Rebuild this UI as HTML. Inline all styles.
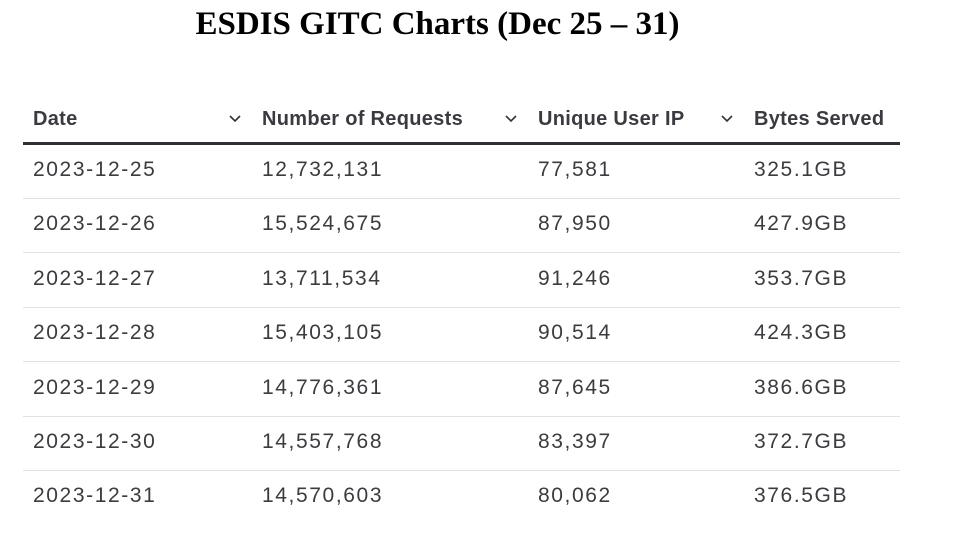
<!DOCTYPE html>
<html><head><meta charset="utf-8"><style>
body{margin:0;width:955px;height:554px;background:#fff;overflow:hidden;position:relative;font-family:"Liberation Sans",sans-serif}
.t{position:absolute;left:0;width:875px;text-align:center;top:6px;font:bold 33px "Liberation Serif",serif;color:#000}
.h{position:absolute;top:108px;font-weight:bold;font-size:20px;color:#3a3a40;letter-spacing:0.3px}
.c{position:absolute;top:111px;width:14px;height:14px}
.line{position:absolute;left:23px;width:877px}
.cell{position:absolute;font-size:21px;color:#3c3c40;letter-spacing:1.6px}
</style></head><body>
<div class="t">ESDIS GITC Charts (Dec 25 – 31)</div>
<div class="h" style="left:33px">Date</div>
<div class="h" style="left:262px">Number of Requests</div>
<div class="h" style="left:538px">Unique User IP</div>
<div class="h" style="left:754px">Bytes Served</div>
<svg class="c" style="left:228px" viewBox="0 0 14 14"><path d="M2 5l5 5 5-5" fill="none" stroke="#333" stroke-width="1.6"/></svg>
<svg class="c" style="left:504px" viewBox="0 0 14 14"><path d="M2 5l5 5 5-5" fill="none" stroke="#333" stroke-width="1.6"/></svg>
<svg class="c" style="left:720px" viewBox="0 0 14 14"><path d="M2 5l5 5 5-5" fill="none" stroke="#333" stroke-width="1.6"/></svg>
<div class="line" style="top:142px;height:3px;background:#2f2f36"></div>
<div id="rows"></div>
<script>
const dates=["2023-12-25","2023-12-26","2023-12-27","2023-12-28","2023-12-29","2023-12-30","2023-12-31"];
const requests=["12,732,131","15,524,675","13,711,534","15,403,105","14,776,361","14,557,768","14,570,603"];
const uniqueIps=["77,581","87,950","91,246","90,514","87,645","83,397","80,062"];
const bytesServed=["325.1GB","427.9GB","353.7GB","424.3GB","386.6GB","372.7GB","376.5GB"];
const root=document.getElementById('rows');
const cols=[[33,dates,'date-cell'],[262,requests,'requests-cell'],[538,uniqueIps,'unique-ip-cell'],[754,bytesServed,'bytes-cell']];
for(let i=0;i<dates.length;i++){
  const top=144+i*54.4;
  for(const [x,arr,n] of cols){
    const d=document.createElement('div');
    d.className='cell';
    d.style.left=x+'px';d.style.top=(top+14)+'px';
    d.textContent=arr[i];
    
    
    root.appendChild(d);
  }
  if(i<dates.length-1){
    const l=document.createElement('div');
    l.className='line';
    l.style.top=(top+54)+'px';l.style.height='1px';l.style.background='#e2e2e4';
    
    
    root.appendChild(l);
  }
}
</script>
</body></html>
